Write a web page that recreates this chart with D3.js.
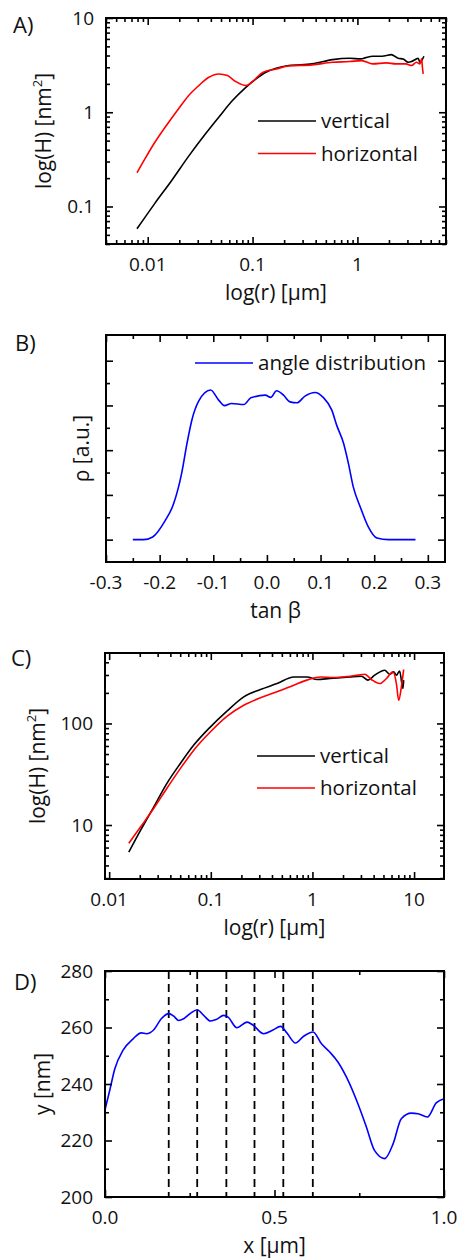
<!DOCTYPE html>
<html>
<head>
<meta charset="utf-8">
<script src="https://cdn.jsdelivr.net/npm/d3@7"></script>
<style>
  body { margin: 0; background: #fff; }
  svg { display: block; font-family: 'Open Sans', sans-serif; fill: #111; }
</style>
</head>
<body>
<svg id="chart" width="458" height="1258"></svg>
<script>
// ---- Panel A: height-height correlation (log-log)
const aVertR = [0.0079, 0.0117, 0.017, 0.0245, 0.0356, 0.0478, 0.0643, 0.0863, 0.108, 0.134, 0.168, 0.222, 0.37, 0.58, 0.84, 1.08, 1.2, 1.4, 1.63, 1.85, 2.1, 2.44, 2.73, 3.05, 3.28, 3.53, 3.8, 3.95, 4.31]
const aVertH = [0.058, 0.108, 0.19, 0.34, 0.59, 0.89, 1.33, 1.84, 2.26, 2.66, 2.93, 3.13, 3.26, 3.62, 3.74, 3.68, 3.8, 3.93, 3.93, 3.98, 4.09, 3.74, 3.68, 3.39, 3.45, 3.6, 3.74, 3.39, 3.93]
const aHorzR = [0.0079, 0.0094, 0.0117, 0.0158, 0.0197, 0.0245, 0.0307, 0.0383, 0.0478, 0.0575, 0.069, 0.0863, 0.1, 0.125, 0.168, 0.222, 0.37, 0.58, 0.84, 1.1, 1.4, 1.89, 2.33, 2.9, 3.28, 3.66, 3.95, 4.1, 4.17, 4.24]
const aHorzH = [0.228, 0.32, 0.48, 0.78, 1.09, 1.5, 1.92, 2.35, 2.55, 2.45, 2.12, 1.92, 2.12, 2.65, 2.88, 3.1, 3.18, 3.39, 3.45, 3.53, 3.26, 3.34, 3.26, 3.26, 3.13, 3.39, 3.26, 3.68, 3.0, 2.55]
const aXTicks = [0.01, 0.1, 1]
const aXLabels = ['0.01', '0.1', '1']
const aYTicks = [0.1, 1, 10]
const aYLabels = ['0.1', '1', '10']

// ---- Panel B: angle distribution
const bTan = [-0.25, -0.23, -0.213, -0.19, -0.174, -0.159, -0.149, -0.14, -0.127, -0.105, -0.09, -0.079, -0.066, -0.043, -0.03, -0.003, 0.007, 0.018, 0.031, 0.043, 0.056, 0.071, 0.09, 0.105, 0.121, 0.13, 0.143, 0.152, 0.161, 0.174, 0.189, 0.205, 0.227, 0.277]
const bRho = [0, 0, 0.12, 0.84, 1.6, 2.96, 4.3, 5.34, 6.2, 6.69, 6.24, 5.99, 6.09, 6.04, 6.34, 6.46, 6.36, 6.66, 6.46, 6.16, 6.12, 6.42, 6.58, 6.36, 5.79, 5.12, 4.3, 3.4, 2.36, 1.46, 0.57, 0.07, 0, 0]
const bXMajor = [-0.3, -0.2, -0.1, 0, 0.1, 0.2, 0.3]
const bXMinor = [-0.25, -0.15, -0.05, 0.05, 0.15, 0.25]
const bXLabels = ['-0.3', '-0.2', '-0.1', '0.0', '0.1', '0.2', '0.3']
const bYMajor = [0, 2, 4, 6, 8]
const bYMinor = [1, 3, 5, 7]

// ---- Panel C: height-height correlation, second sample
const cVertR = [0.0156, 0.0204, 0.0275, 0.037, 0.0503, 0.068, 0.0993, 0.145, 0.211, 0.308, 0.449, 0.655, 0.885, 1.11, 1.48, 2.33, 3.03, 3.52, 4.1, 5.14, 5.76, 6.3, 6.7, 7.2, 7.77, 7.9]
const cVertH = [5.4, 8.9, 15.1, 25.7, 40.5, 61.2, 92.6, 133, 183, 216, 247, 287, 287, 271, 277, 287, 292, 267, 299, 334, 305, 322, 299, 329, 221, 267]
const cHorzR = [0.0156, 0.0204, 0.0275, 0.037, 0.0503, 0.068, 0.0993, 0.145, 0.211, 0.308, 0.449, 0.655, 0.885, 1.2, 1.62, 2.33, 2.8, 3.27, 3.8, 4.59, 5.35, 6.2, 6.7, 7.06, 7.5, 7.9]
const cHorzH = [6.6, 9.6, 14.6, 23, 36.1, 54.6, 82.8, 118, 151, 179, 205, 238, 267, 287, 283, 292, 299, 305, 271, 247, 277, 322, 247, 169, 229, 340]
const cXTicks = [0.01, 0.1, 1, 10]
const cXLabels = ['0.01', '0.1', '1', '10']
const cYTicks = [10, 100]
const cYLabels = ['10', '100']

// ---- Panel D: surface profile
const dX = [0, 0.014, 0.029, 0.053, 0.083, 0.107, 0.122, 0.144, 0.166, 0.188, 0.203, 0.217, 0.232, 0.253, 0.272, 0.291, 0.311, 0.328, 0.35, 0.363, 0.389, 0.419, 0.437, 0.468, 0.494, 0.518, 0.537, 0.562, 0.586, 0.614, 0.638, 0.663, 0.687, 0.712, 0.746, 0.771, 0.795, 0.825, 0.85, 0.874, 0.904, 0.923, 0.951, 0.977, 1.0]
const dY = [230.9, 237.8, 245.4, 251.9, 256.0, 258.1, 257.8, 259.2, 263.1, 264.9, 264.0, 262.5, 263.1, 265.1, 266.3, 264.3, 262.3, 262.8, 264.3, 263.7, 259.9, 261.9, 260.8, 257.8, 259.0, 260.4, 258.0, 254.5, 256.9, 258.4, 254.3, 251.3, 247.8, 242.5, 233.0, 224.8, 216.5, 213.6, 218.9, 227.7, 229.7, 229.5, 228.3, 233.3, 234.8]
const dPeaks = [0.188, 0.272, 0.358, 0.441, 0.526, 0.613]
const dXMajor = [0, 0.5, 1]
const dXMinor = [0.25, 0.75]
const dXLabels = ['0.0', '0.5', '1.0']
const dYMajor = [200, 220, 240, 260, 280]
const dYMinor = [210, 230, 250, 270]

const svg = d3.select('#chart')

/**
 * Box with inward ticks on all four sides.
 */
function drawFrame (g, x, y, xMajor, xMinor, yMajor, yMinor) {
  const [x0, x1] = x.range()
  const [y1, y0] = y.range()
  const sides = [
    [d3.axisBottom(x), `translate(0,${y1})`, xMajor, xMinor],
    [d3.axisTop(x), `translate(0,${y0})`, xMajor, xMinor],
    [d3.axisLeft(y), `translate(${x0},0)`, yMajor, yMinor],
    [d3.axisRight(y), `translate(${x1},0)`, yMajor, yMinor]
  ]
  sides.forEach(([axis, t, major, minor]) => {
    [[major, -7], [minor, -4]].forEach(([vals, size]) => {
      g.append('g')
        .attr('transform', t)
        .call(axis.tickValues(vals).tickSize(size).tickFormat(''))
        .call(s => s.select('.domain').remove())
        .selectAll('line')
        .attr('stroke', '#000')
        .attr('stroke-width', 1.6)
    })
  })
  g.append('rect')
    .attr('x', x0)
    .attr('y', y0)
    .attr('width', x1 - x0)
    .attr('height', y1 - y0)
    .attr('fill', 'none')
    .attr('stroke', '#000')
    .attr('stroke-width', 2)
}

function drawLabels (g, x, y, p) {
  const [x0, x1] = x.range()
  const [y1, y0] = y.range()
  g.selectAll(null)
    .data(p.xTicks)
    .join('text')
    .attr('x', d => x(d))
    .attr('y', y1 + 27)
    .attr('text-anchor', 'middle')
    .style('font-size', '19px')
    .text((d, i) => p.xLabels[i])
  if (p.yTicks) {
    g.selectAll(null)
      .data(p.yTicks)
      .join('text')
      .attr('x', x0 - 12)
      .attr('y', d => y(d))
      .attr('dy', '0.35em')
      .attr('text-anchor', 'end')
      .style('font-size', '19px')
      .text((d, i) => p.yLabels[i])
  }
  g.append('text')
    .attr('x', (x0 + x1) / 2)
    .attr('y', y1 + 56)
    .attr('text-anchor', 'middle')
    .style('font-size', '21px')
    .text(p.xTitle)
  const yt = g.append('text')
    .attr('transform', `translate(${p.yTitleX},${(y0 + y1) / 2}) rotate(-90)`)
    .attr('dy', '0.35em')
    .attr('text-anchor', 'middle')
    .style('font-size', '21px')
  yt.append('tspan').text(p.yTitle)
  if (p.ySup) {
    yt.append('tspan').attr('baseline-shift', 'super').style('font-size', '13px').text(p.ySup)
    yt.append('tspan').text(']')
  }
  g.append('text')
    .attr('x', p.tag[1])
    .attr('y', p.tag[2])
    .style('font-size', '22px')
    .text(p.tag[0])
}

function drawLegend (g, items, lx, ly, gap) {
  items.forEach(([label, color], i) => {
    g.append('line')
      .attr('x1', lx).attr('x2', lx + 58)
      .attr('y1', ly + i * gap).attr('y2', ly + i * gap)
      .attr('stroke', color).attr('stroke-width', 1.6)
    g.append('text')
      .attr('x', lx + 63)
      .attr('y', ly + i * gap)
      .attr('dy', '0.35em')
      .style('font-size', '20.5px')
      .text(label)
  })
}

function drawCurve (g, x, y, xs, ys, color) {
  g.append('path')
    .datum(d3.zip(xs, ys))
    .attr('fill', 'none')
    .attr('stroke', color)
    .attr('stroke-width', 1.6)
    .attr('stroke-linejoin', 'round')
    .attr('d', d3.line().x(d => x(d[0])).y(d => y(d[1])).curve(d3.curveMonotoneX))
}

function minorLog (scale, major) {
  return scale.ticks().filter(v => !major.some(m => Math.abs(m - v) < 1e-9))
}

// ---- A
{
  const g = svg.append('g')
  const x = d3.scaleLog().domain([0.004, 7]).range([106, 446])
  const y = d3.scaleLog().domain([0.04, 10]).range([244, 18])
  drawCurve(g, x, y, aVertR, aVertH, '#000')
  drawCurve(g, x, y, aHorzR, aHorzH, '#f00')
  drawFrame(g, x, y, aXTicks, minorLog(x, aXTicks), aYTicks, minorLog(y, aYTicks))
  drawLabels(g, x, y, {
    xTicks: aXTicks, xLabels: aXLabels, yTicks: aYTicks, yLabels: aYLabels,
    xTitle: 'log(r) [µm]', yTitle: 'log(H) [nm', ySup: '2', yTitleX: 44, tag: ['A)', 13, 33]
  })
  drawLegend(g, [['vertical', '#000'], ['horizontal', '#f00']], 258, 121, 32.5)
}

// ---- B
{
  const g = svg.append('g')
  const x = d3.scaleLinear().domain([-0.3, 0.332]).range([106, 445])
  const y = d3.scaleLinear().domain([-1, 9.15]).range([562, 335])
  drawCurve(g, x, y, bTan, bRho, '#00f')
  drawFrame(g, x, y, bXMajor, bXMinor, bYMajor, bYMinor)
  drawLabels(g, x, y, {
    xTicks: bXMajor, xLabels: bXLabels,
    xTitle: 'tan β', yTitle: 'ρ [a.u.]', yTitleX: 82, tag: ['B)', 15, 351]
  })
  drawLegend(g, [['angle distribution', '#00f']], 195, 363, 0)
}

// ---- C
{
  const g = svg.append('g')
  const x = d3.scaleLog().domain([0.0091, 19.7]).range([105, 444])
  const y = d3.scaleLog().domain([2.94, 494]).range([879, 653])
  drawCurve(g, x, y, cVertR, cVertH, '#000')
  drawCurve(g, x, y, cHorzR, cHorzH, '#f00')
  drawFrame(g, x, y, cXTicks, minorLog(x, cXTicks), cYTicks, minorLog(y, cYTicks))
  drawLabels(g, x, y, {
    xTicks: cXTicks, xLabels: cXLabels, yTicks: cYTicks, yLabels: cYLabels,
    xTitle: 'log(r) [µm]', yTitle: 'log(H) [nm', ySup: '2', yTitleX: 38, tag: ['C)', 11, 666]
  })
  drawLegend(g, [['vertical', '#000'], ['horizontal', '#f00']], 257, 756, 32)
}

// ---- D
{
  const g = svg.append('g')
  const x = d3.scaleLinear().domain([0, 1]).range([105, 444])
  const y = d3.scaleLinear().domain([200, 280]).range([1197, 971])
  g.selectAll(null)
    .data(dPeaks)
    .join('line')
    .attr('x1', d => x(d)).attr('x2', d => x(d))
    .attr('y1', y(280)).attr('y2', y(200))
    .attr('stroke', '#000')
    .attr('stroke-width', 1.8)
    .attr('stroke-dasharray', '8,5')
  drawCurve(g, x, y, dX, dY, '#00f')
  drawFrame(g, x, y, dXMajor, dXMinor, dYMajor, dYMinor)
  drawLabels(g, x, y, {
    xTicks: dXMajor, xLabels: dXLabels, yTicks: dYMajor, yLabels: dYMajor.map(String),
    xTitle: 'x [µm]', yTitle: 'y [nm]', yTitleX: 43, tag: ['D)', 14, 990]
  })
}
</script>
</body>
</html>
